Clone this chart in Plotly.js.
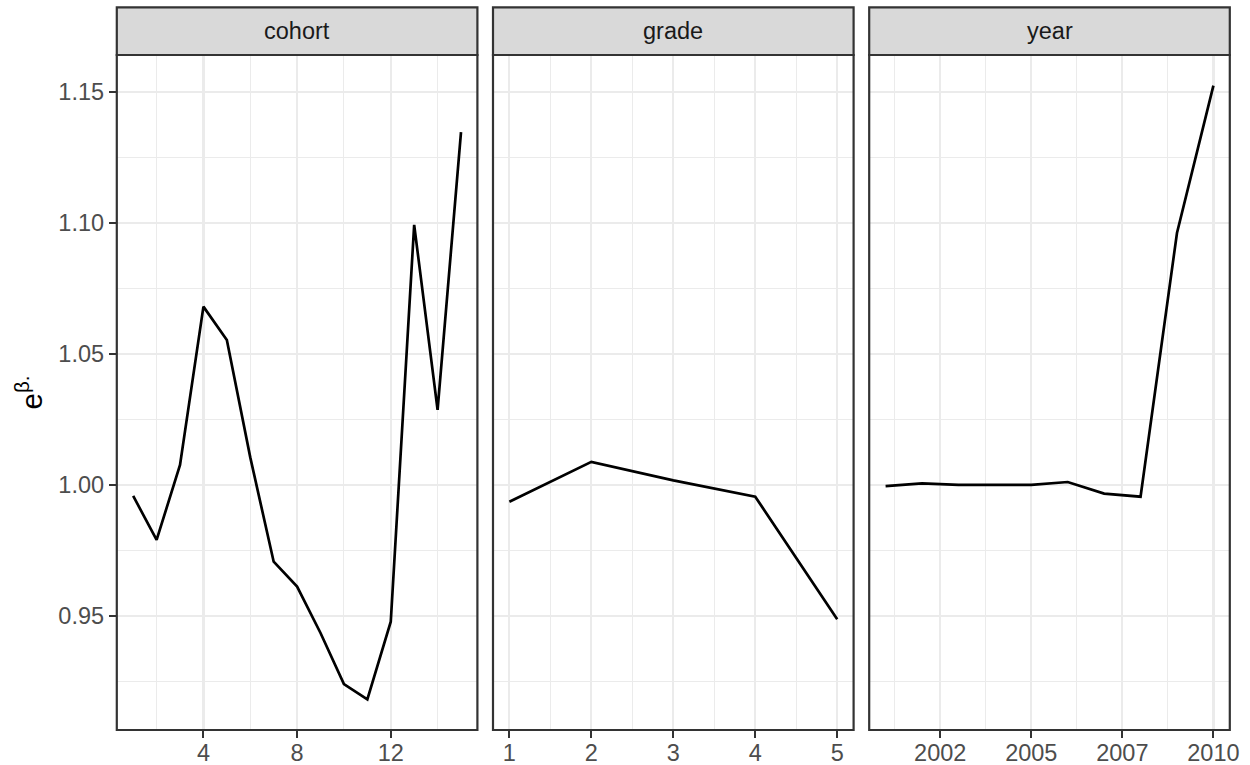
<!DOCTYPE html>
<html>
<head>
<meta charset="utf-8">
<script src="https://cdn.plot.ly/plotly-3.0.1.min.js"></script>
<style>html,body{margin:0;padding:0;background:#fff;}#plot{width:1250px;height:765px;}</style>
</head>
<body>
<div id="plot"></div>
<script>
// ---- data ----
var panelNames = ["cohort", "grade", "year"];

var cohortX = [1, 2, 3, 4, 5, 6, 7, 8, 9, 10, 11, 12, 13, 14, 15];
var cohortY = [0.9958, 0.9790, 1.0076, 1.0680, 1.0553, 1.0105, 0.9707, 0.9612, 0.9435, 0.9240, 0.9182, 0.9478, 1.0992, 1.0286, 1.1346];

var gradeX = [1, 2, 3, 4, 5];
var gradeY = [0.9936, 1.0088, 1.0017, 0.9955, 0.9487];

var yearX = [2001, 2002, 2003, 2004, 2005, 2006, 2007, 2008, 2009, 2010];
var yearY = [0.9995, 1.0006, 1.0000, 1.0001, 1.0000, 1.0011, 0.9967, 0.9955, 1.0961, 1.1523];

var yTickVals = [0.95, 1.00, 1.05, 1.10, 1.15];
var yTickText = ["0.95", "1.00", "1.05", "1.10", "1.15"];
var cohortTickVals = [4, 8, 12];
var cohortTickText = ["4", "8", "12"];
var gradeTickVals = [1, 2, 3, 4, 5];
var gradeTickText = ["1", "2", "3", "4", "5"];
var yearTickVals = [2002.5, 2005, 2007.5, 2010];
var yearTickText = ["2002", "2005", "2007", "2010"];

// ---- layout geometry (pixels) ----
var W = 1250, H = 765;
var panelW = 360.6, gap = 15.6, left0 = 116.8;
var panelTop = 55, panelBottom = 730, stripTop = 7.3;
var doms = [0, 1, 2].map(function (i) {
  var a = left0 + i * (panelW + gap);
  return [a / W, (a + panelW) / W];
});
var yDom = [1 - panelBottom / H, 1 - panelTop / H];

var font = "Liberation Sans, Arial, Helvetica, sans-serif";
var tickFont = {family: font, size: 23.5, color: "#4D4D4D"};
var gridC = "#EBEBEB";

function pad(arr, f) {
  var mn = Math.min.apply(null, arr), mx = Math.max.apply(null, arr);
  var p = (mx - mn) * f;
  return [mn - p, mx + p];
}
var yRange = pad(cohortY.concat(gradeY, yearY), 0.05);

var lineStyle = {color: "#000000", width: 2.7};
var traces = [
  {x: cohortX, y: cohortY, xaxis: "x", yaxis: "y", type: "scatter", mode: "lines", line: lineStyle, hoverinfo: "x+y"},
  {x: gradeX, y: gradeY, xaxis: "x2", yaxis: "y2", type: "scatter", mode: "lines", line: lineStyle, hoverinfo: "x+y"},
  {x: yearX, y: yearY, xaxis: "x3", yaxis: "y3", type: "scatter", mode: "lines", line: lineStyle, hoverinfo: "x+y"}
];

function xaxis(dom, range, tv, tt, minorVals, anchor) {
  return {
    domain: dom, range: range, anchor: anchor,
    tickmode: "array", tickvals: tv, ticktext: tt,
    ticks: "outside", ticklen: 7, tickwidth: 2, tickcolor: "#333333",
    tickfont: tickFont, ticklabelstandoff: -5, showline: false, zeroline: false,
    showgrid: true, gridcolor: gridC, gridwidth: 2.2,
    minor: {tickmode: "array", tickvals: minorVals, showgrid: true, gridcolor: gridC, gridwidth: 1.1, ticks: ""},
    automargin: false, fixedrange: true
  };
}
function yaxis(anchor, showLabels) {
  var ax = {
    domain: yDom, range: yRange, anchor: anchor,
    tickmode: "array", tickvals: yTickVals,
    ticks: showLabels ? "outside" : "", ticklen: 7, tickwidth: 2, tickcolor: "#333333",
    tickfont: tickFont, showticklabels: showLabels, showline: false, zeroline: false,
    showgrid: true, gridcolor: gridC, gridwidth: 2.2,
    minor: {tickmode: "array", tickvals: [0.925, 0.975, 1.025, 1.075, 1.125], showgrid: true, gridcolor: gridC, gridwidth: 1.1, ticks: ""},
    automargin: false, fixedrange: true
  };
  if (showLabels) ax.ticktext = yTickText;
  return ax;
}

var cohortRange = pad(cohortX, 0.05);
var gradeRange = pad(gradeX, 0.05);
var yearRange = pad(yearX, 0.05);

var shapes = [], annotations = [];
doms.forEach(function (d, i) {
  // panel border
  shapes.push({type: "rect", xref: "paper", yref: "paper", x0: d[0], x1: d[1], y0: yDom[0], y1: yDom[1],
    line: {color: "#333333", width: 2.2}, fillcolor: "rgba(0,0,0,0)", layer: "above"});
  // strip
  shapes.push({type: "rect", xref: "paper", yref: "paper", x0: d[0], x1: d[1], y0: yDom[1], y1: 1 - stripTop / H,
    line: {color: "#333333", width: 2.2}, fillcolor: "#D9D9D9", layer: "above"});
  annotations.push({xref: "paper", yref: "paper", x: (d[0] + d[1]) / 2, y: 1 - ((stripTop + panelTop) / 2) / H,
    xanchor: "center", yanchor: "middle", showarrow: false, text: panelNames[i],
    font: {family: font, size: 23.5, color: "#1A1A1A"}});
});
// y-axis title
annotations.push({xref: "paper", yref: "paper", x: 29 / W, y: (yDom[0] + yDom[1]) / 2,
  xanchor: "center", yanchor: "middle", showarrow: false, textangle: -90,
  text: "e<sup>β.</sup>", font: {family: font, size: 29.5, color: "#000000"}});

var layout = {
  width: W, height: H,
  margin: {l: 0, r: 0, t: 0, b: 0, pad: 0},
  paper_bgcolor: "#FFFFFF", plot_bgcolor: "#FFFFFF",
  showlegend: false,
  xaxis: xaxis(doms[0], cohortRange, cohortTickVals, cohortTickText, [2, 6, 10, 14], "y"),
  xaxis2: xaxis(doms[1], gradeRange, gradeTickVals, gradeTickText, [1.5, 2.5, 3.5, 4.5], "y2"),
  xaxis3: xaxis(doms[2], yearRange, yearTickVals, yearTickText, [2001.25, 2003.75, 2006.25, 2008.75], "y3"),
  yaxis: yaxis("x", true),
  yaxis2: yaxis("x2", false),
  yaxis3: yaxis("x3", false),
  shapes: shapes,
  annotations: annotations
};

Plotly.newPlot("plot", traces, layout, {displayModeBar: false, staticPlot: true});
</script>
</body>
</html>
